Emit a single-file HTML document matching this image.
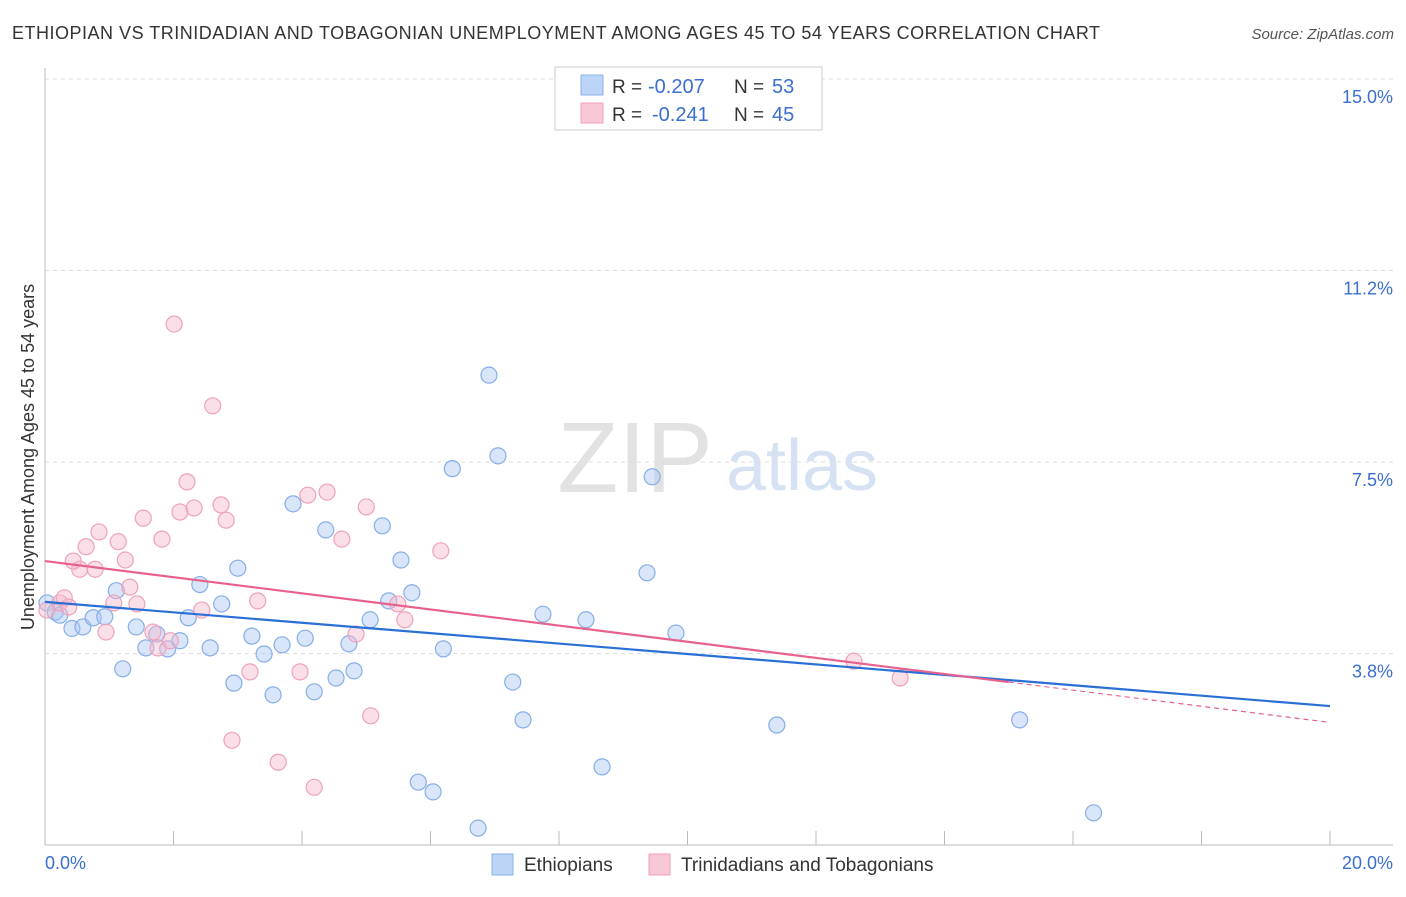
<!DOCTYPE html>
<html><head><meta charset="utf-8"><style>
body{margin:0;background:#fff;font-family:"Liberation Sans",sans-serif;}
svg text{font-family:"Liberation Sans",sans-serif;}
</style></head><body>
<svg id="c" width="1406" height="892">
<text x="12" y="39" font-size="18" fill="#333" textLength="1088">ETHIOPIAN VS TRINIDADIAN AND TOBAGONIAN UNEMPLOYMENT AMONG AGES 45 TO 54 YEARS CORRELATION CHART</text>
<text x="1394" y="39" font-size="15" fill="#555" text-anchor="end" font-style="italic">Source: ZipAtlas.com</text>
<text x="635" y="492" font-size="100" fill="#e2e2e2" font-family="Liberation Serif" text-anchor="middle">ZIP</text>
<text x="802" y="490" font-size="72" fill="#d6e2f4" text-anchor="middle">atlas</text>
<g id="grid"></g><g id="pts"></g><g id="lines"></g>
<text transform="translate(34,457) rotate(-90)" font-size="18" fill="#333" text-anchor="middle">Unemployment Among Ages 45 to 54 years</text>
<text x="45" y="869" font-size="18" fill="#3a6fd0">0.0%</text>
<text x="1393" y="869" font-size="18" fill="#3a6fd0" text-anchor="end">20.0%</text>
<g>
<rect x="555" y="67" width="267" height="63" fill="#fff" stroke="#ccc"/>
<rect x="581" y="75" width="22" height="20" fill="#bcd4f6" stroke="#8ab0e8"/>
<rect x="581" y="103" width="22" height="20" fill="#f9c8d6" stroke="#f0a0b8"/>
<text x="612" y="93" font-size="19" fill="#333">R =</text>
<text x="648" y="93" font-size="20" fill="#3a6fd0">-0.207</text>
<text x="734" y="93" font-size="19" fill="#333">N =</text>
<text x="772" y="93" font-size="20" fill="#3a6fd0">53</text>
<text x="612" y="121" font-size="19" fill="#333">R =</text>
<text x="652" y="121" font-size="20" fill="#3a6fd0">-0.241</text>
<text x="734" y="121" font-size="19" fill="#333">N =</text>
<text x="772" y="121" font-size="20" fill="#3a6fd0">45</text>
</g>
<g>
<rect x="492" y="854" width="21" height="21" fill="#bcd4f6" stroke="#8ab0e8"/>
<text x="524" y="871" font-size="19" fill="#333">Ethiopians</text>
<rect x="649" y="854" width="21" height="21" fill="#f9c8d6" stroke="#f0a0b8"/>
<text x="681" y="871" font-size="19" fill="#333">Trinidadians and Tobagonians</text>
</g>
</svg>
<script>
const yTicks=[15.0,11.25,7.5,3.75];
const yTickLabels=["15.0%","11.2%","7.5%","3.8%"];
const xTickVals=[0,2,4,6,8,10,12,14,16,18,20];
const ethX=[0.03,0.16,0.23,0.42,0.59,0.75,0.93,1.11,1.21,1.42,1.57,1.74,1.91,2.1,2.23,2.41,2.57,2.75,2.94,3.0,3.22,3.41,3.55,3.69,3.86,4.05,4.19,4.37,4.53,4.73,4.81,5.06,5.25,5.35,5.54,5.71,5.81,6.04,6.2,6.34,6.74,6.91,7.05,7.28,7.44,7.75,8.42,8.67,9.37,9.45,9.82,11.39,15.17,16.32];
const ethY=[4.74,4.56,4.5,4.24,4.27,4.45,4.47,4.98,3.45,4.27,3.86,4.13,3.84,4.0,4.45,5.1,3.86,4.72,3.17,5.42,4.09,3.74,2.94,3.92,6.68,4.05,3.0,6.17,3.27,3.94,3.41,4.41,6.25,4.78,5.58,4.94,1.23,1.04,3.84,7.37,0.33,9.2,7.62,3.19,2.45,4.52,4.41,1.53,5.33,7.21,4.15,2.35,2.45,0.63];
const triX=[0.03,0.23,0.3,0.37,0.54,0.64,0.44,0.78,0.84,0.95,1.07,1.14,1.25,1.32,1.43,1.53,1.68,1.76,1.82,1.95,2.01,2.1,2.21,2.32,2.44,2.61,2.74,2.82,2.91,3.19,3.31,3.63,3.97,4.09,4.19,4.39,4.62,4.84,5.0,5.07,5.49,5.6,6.16,12.59,13.31];
const triY=[4.6,4.74,4.84,4.66,5.4,5.84,5.56,5.4,6.13,4.17,4.74,5.94,5.58,5.05,4.72,6.4,4.17,3.86,5.99,4.0,10.2,6.52,7.11,6.6,4.6,8.6,6.66,6.36,2.05,3.39,4.78,1.62,3.39,6.85,1.13,6.91,5.99,4.13,6.62,2.53,4.72,4.41,5.76,3.6,3.27];
const ethTrend=[4.76,2.72];
const triTrend=[5.56,2.4];
const X=v=>45+v*64.25, Y=v=>845-v*51.07;
const NS='http://www.w3.org/2000/svg';
function mk(t,a,p){const e=document.createElementNS(NS,t);for(const k in a)e.setAttribute(k,a[k]);p.appendChild(e);return e;}
const g=document.getElementById('grid');
yTicks.forEach((v,i)=>{
 const l=mk('line',{x1:45,x2:1393,y1:Y(v),y2:Y(v),stroke:'#ddd','stroke-dasharray':'4,4'},g);
 
 
 const t=mk('text',{x:1393,y:Y(v)+24,'font-size':18,fill:'#3a6fd0','text-anchor':'end'},g);
 t.textContent=yTickLabels[i];
 
 
});
mk('line',{x1:45,x2:45,y1:68,y2:845,stroke:'#bbb'},g);
mk('line',{x1:45,x2:1393,y1:845,y2:845,stroke:'#bbb'},g);
xTickVals.forEach(v=>{const l=mk('line',{x1:X(v),x2:X(v),y1:831,y2:845,stroke:'#bbb'},g);
 
 });
const p=document.getElementById('pts');
ethX.forEach((x,i)=>{const c=mk('circle',{cx:X(x),cy:Y(ethY[i]),r:8,fill:'rgba(170,198,242,0.45)',stroke:'#86aee8','stroke-width':1.2},p);
 
 });
triX.forEach((x,i)=>{const c=mk('circle',{cx:X(x),cy:Y(triY[i]),r:8,fill:'rgba(247,185,204,0.45)',stroke:'#eea2ba','stroke-width':1.2},p);
 
 });
const L=document.getElementById('lines');
const e1=mk('line',{x1:X(0),y1:Y(ethTrend[0]),x2:X(20),y2:Y(ethTrend[1]),stroke:'#2a6fd6','stroke-width':2.2},L);


const tY=x=>triTrend[0]+(triTrend[1]-triTrend[0])*x/20;
const t1=mk('line',{x1:X(0),y1:Y(tY(0)),x2:X(15),y2:Y(tY(15)),stroke:'#e8608c','stroke-width':2.2},L);


const t2=mk('line',{x1:X(15),y1:Y(tY(15)),x2:X(20),y2:Y(tY(20)),stroke:'#e8608c','stroke-width':1.2,'stroke-dasharray':'5,4'},L);


</script>
</body></html>
